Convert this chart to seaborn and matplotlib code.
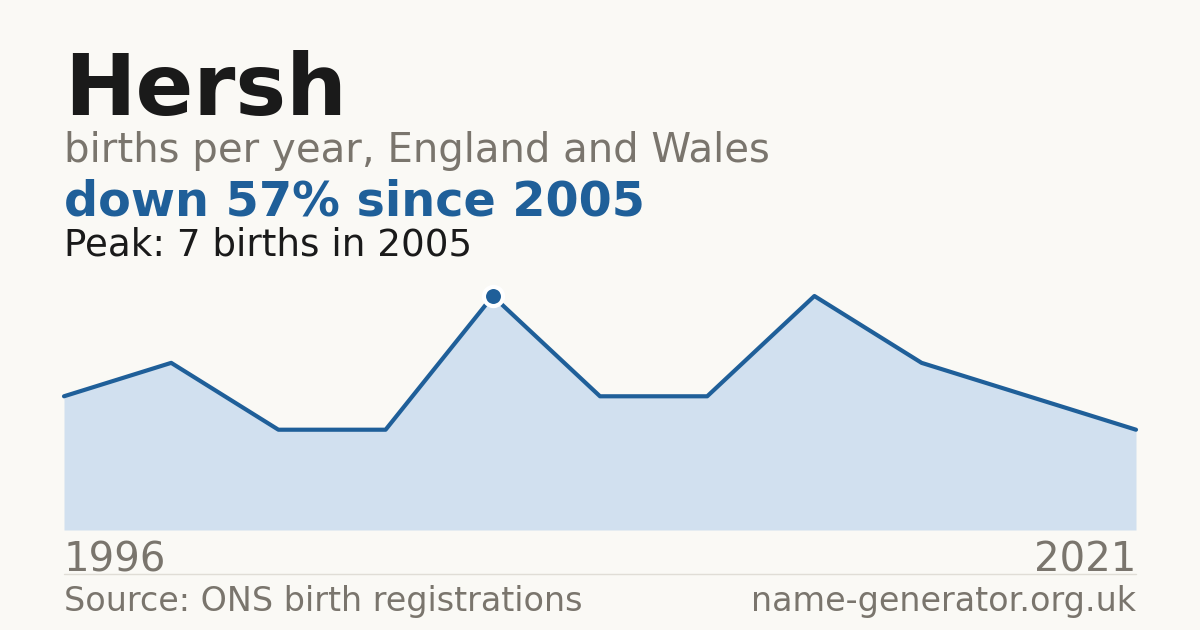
import numpy as np
import pandas as pd
import matplotlib
matplotlib.use("Agg")
import matplotlib.pyplot as plt
import seaborn as sns

# data (births per year, evenly spaced registrations)
years = [1996, 1999, 2001, 2003, 2005, 2007, 2010, 2012, 2015, 2018, 2021]
births = [4, 5, 3, 3, 7, 4, 4, 7, 5, 4, 3]
peak_year = 2005
peak_births = 7

BG = "#faf9f5"
BLUE = "#1f5f99"
FILL = "#d1e0ef"
GREY = "#7a756d"
INK = "#1a1a1a"

W, H = 1200, 630

sns.set_theme(style="white")
plt.rcParams["font.family"] = ["DejaVu Sans"]

df = pd.DataFrame({"year": years, "births": births})
df["pos"] = np.arange(len(df))

fig = plt.figure(figsize=(W / 100, H / 100), dpi=100)
fig.patch.set_facecolor(BG)


def px(x, y):
    return x / W, 1 - y / H


# chart area: x 64..1136, value 0 at y=530, value 7 at y=296
left, bottom = px(64, 530)
right, top = px(1136, 296)
ax = fig.add_axes([left, bottom, right - left, top - bottom])
ax.set_facecolor(BG)

ax.fill_between(df["pos"], df["births"], 0, color=FILL, linewidth=0, zorder=1)
sns.lineplot(data=df, x="pos", y="births", ax=ax, color=BLUE, linewidth=3,
             zorder=3, clip_on=False)
pk = df[df["year"] == peak_year]
sns.scatterplot(data=pk, x="pos", y="births", ax=ax, color=BLUE, s=190,
                edgecolor="white", linewidth=3, zorder=4, clip_on=False)

ax.set_xlim(0, len(df) - 1)
ax.set_ylim(0, peak_births)
ax.axis("off")

# header text
fig.text(*px(64, 115), "Hersh", fontsize=61.5, fontweight="bold", color=INK, va="baseline")
fig.text(*px(64, 162), "births per year, England and Wales", fontsize=29, color=GREY, va="baseline")
first, last = births[years.index(peak_year)], births[-1]
drop = round((first - last) / first * 100)
fig.text(*px(64, 216), f"down {drop}% since {peak_year}", fontsize=34.4, fontweight="bold",
         color=BLUE, va="baseline")
fig.text(*px(64, 256), f"Peak: {peak_births} births in {peak_year}", fontsize=26.8, color=INK,
         va="baseline")

# axis end labels
fig.text(*px(64, 571), str(years[0]), fontsize=29, color=GREY, va="baseline")
fig.text(*px(1136, 571), str(years[-1]), fontsize=29, color=GREY, va="baseline", ha="right")

# divider and footer
fig.add_artist(plt.Line2D([64 / W, 1136 / W], [1 - 574 / H] * 2, color="#e0ddd6", linewidth=1))
fig.text(*px(64, 611), "Source: ONS birth registrations", fontsize=24, color=GREY, va="baseline")
fig.text(*px(1136, 611), "name-generator.org.uk", fontsize=24, color=GREY, va="baseline", ha="right")

fig.savefig("out.png", dpi=100, facecolor=BG)
